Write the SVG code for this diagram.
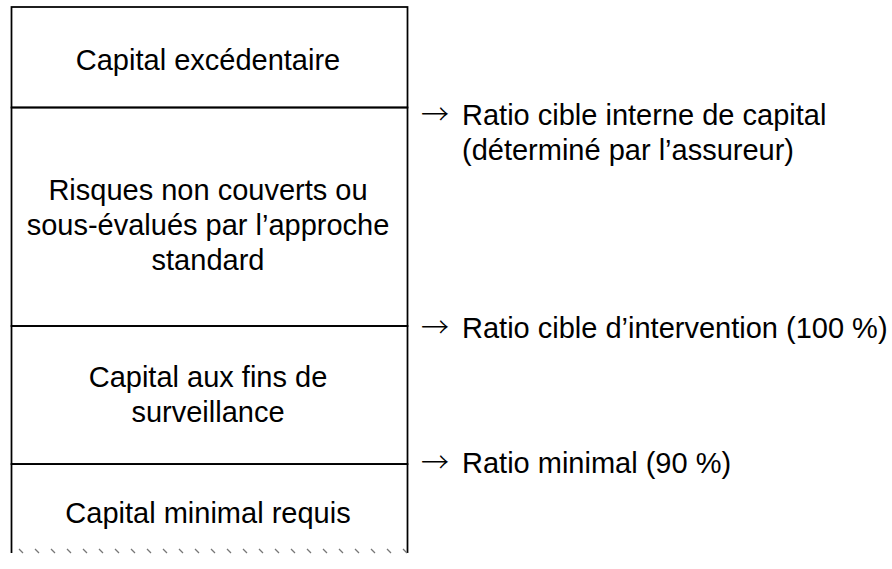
<svg xmlns="http://www.w3.org/2000/svg" width="892" height="569" viewBox="0 0 892 569">
<style>
.t{font-family:"Liberation Sans",Arial,sans-serif;font-size:29px;fill:#000}
.a{font-family:"Noto Sans CJK JP","DejaVu Sans",sans-serif;font-size:28px;font-weight:300}
.c{text-anchor:middle}
.b{fill:none;stroke:#000;stroke-width:1.75}
.h{fill:none;stroke:#777;stroke-width:1.3}
</style>
<rect width="892" height="569" fill="#fff"/>
<g id="node-capital-excedentaire">
<rect class="b" x="11.5" y="7" width="396" height="100.5"/>
<text class="t c" x="208" y="69.5">Capital excédentaire</text>
</g>
<g id="node-risques">
<rect class="b" x="11.5" y="107.5" width="396" height="218.5"/>
<text class="t c" x="208" y="200">Risques non couverts ou</text>
<text class="t c" x="208" y="235">sous-évalués par l’approche</text>
<text class="t c" x="208" y="270">standard</text>
</g>
<g id="node-surveillance">
<rect class="b" x="11.5" y="326" width="396" height="138"/>
<text class="t c" x="208" y="387">Capital aux fins de</text>
<text class="t c" x="208" y="422">surveillance</text>
</g>
<g id="node-minimal">
<path class="b" d="M11.5 553V464H407.5V553"/>
<text class="t c" x="208" y="523">Capital minimal requis</text>
<path class="h" d="M19 549l4 4M35 549l4 4M51 549l4 4M67 549l4 4M83 549l4 4M99 549l4 4M115 549l4 4M131 549l4 4M147 549l4 4M163 549l4 4M179 549l4 4M195 549l4 4M211 549l4 4M227 549l4 4M243 549l4 4M259 549l4 4M275 549l4 4M291 549l4 4M307 549l4 4M323 549l4 4M339 549l4 4M355 549l4 4M371 549l4 4M387 549l4 4M403 549l4 4"/>
</g>
<g id="connectors">
<g id="label-ratio-interne">
<text class="t" y="125"><tspan class="a" x="421">→</tspan><tspan x="462">Ratio cible interne de capital</tspan></text>
<text class="t" x="462" y="160">(déterminé par l’assureur)</text>
</g>
<g id="label-ratio-intervention">
<text class="t" y="338"><tspan class="a" x="421">→</tspan><tspan x="462">Ratio cible d’intervention (100 %)</tspan></text>
</g>
<g id="label-ratio-minimal">
<text class="t" y="473"><tspan class="a" x="421">→</tspan><tspan x="462">Ratio minimal (90 %)</tspan></text>
</g>
</g>
</svg>
